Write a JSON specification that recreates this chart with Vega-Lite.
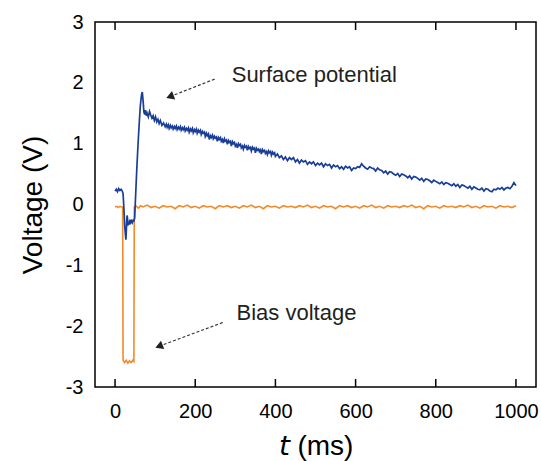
{
  "$schema": "https://vega.github.io/schema/vega-lite/v6.json",
  "autosize": "none",
  "width": 441,
  "height": 365,
  "padding": {"left": 95, "top": 22, "right": 5, "bottom": 74},
  "background": "white",
  "config": {
    "view": {"stroke": "#000000", "strokeWidth": 1.5},
    "font": "Liberation Sans",
    "axis": {"grid": false, "domain": false, "labelFont": "Liberation Sans", "titleFont": "Liberation Sans", "labelColor": "#000000", "titleColor": "#000000", "titleFontWeight": "normal"}
  },
  "datasets": {
    "surface": [
      {"t":0,"v":0.22},{"t":3,"v":0.25},{"t":6,"v":0.21},{"t":9,"v":0.26},{"t":12,"v":0.23},{"t":15,"v":0.25},{"t":18,"v":0.22},{"t":20,"v":0.18},
      {"t":22,"v":-0.05},{"t":24,"v":-0.35},{"t":26,"v":-0.5},{"t":27,"v":-0.58},{"t":28,"v":-0.45},{"t":29,"v":-0.3},{"t":30,"v":-0.18},{"t":31,"v":-0.22},
      {"t":32,"v":-0.35},{"t":33,"v":-0.28},{"t":35,"v":-0.33},{"t":37,"v":-0.25},{"t":39,"v":-0.3},{"t":41,"v":-0.27},{"t":43,"v":-0.3},{"t":45,"v":-0.26},
      {"t":47,"v":-0.27},{"t":49,"v":-0.22},{"t":51,"v":0.1},{"t":54,"v":0.55},{"t":57,"v":0.95},{"t":60,"v":1.3},{"t":63,"v":1.62},{"t":66,"v":1.8},
      {"t":68,"v":1.85},{"t":70,"v":1.7},{"t":72,"v":1.52},{"t":74,"v":1.48},{"t":76,"v":1.55},{"t":78,"v":1.46},{"t":80,"v":1.5},{"t":83,"v":1.44},
      {"t":86,"v":1.53},{"t":89,"v":1.47},{"t":92,"v":1.42},{"t":95,"v":1.46},{"t":98,"v":1.38},{"t":101,"v":1.44},{"t":104,"v":1.36},{"t":107,"v":1.4},
      {"t":110,"v":1.33},{"t":113,"v":1.38},{"t":117,"v":1.3},{"t":121,"v":1.34},{"t":125,"v":1.28},{"t":128,"v":1.32},{"t":130,"v":1.27},{"t":133,"v":1.31},{"t":135,"v":1.25},{"t":138,"v":1.3},{"t":140,"v":1.26},
      {"t":143,"v":1.29},{"t":145,"v":1.24},{"t":148,"v":1.28},{"t":150,"v":1.25},{"t":153,"v":1.29},{"t":155,"v":1.23},{"t":158,"v":1.27},{"t":160,"v":1.24},{"t":163,"v":1.28},{"t":165,"v":1.22},{"t":168,"v":1.26},{"t":170,"v":1.23},{"t":173,"v":1.27},{"t":175,"v":1.21},{"t":178,"v":1.25},{"t":180,"v":1.22},
      {"t":183,"v":1.26},{"t":185,"v":1.19},{"t":188,"v":1.24},{"t":190,"v":1.21},{"t":193,"v":1.25},{"t":195,"v":1.18},{"t":198,"v":1.23},{"t":200,"v":1.2},{"t":203,"v":1.24},{"t":205,"v":1.17},{"t":208,"v":1.22},{"t":210,"v":1.19},{"t":213,"v":1.22},{"t":215,"v":1.15},{"t":218,"v":1.2},{"t":220,"v":1.17},
      {"t":223,"v":1.19},{"t":225,"v":1.12},{"t":228,"v":1.17},{"t":230,"v":1.13},{"t":233,"v":1.16},{"t":235,"v":1.07},{"t":238,"v":1.13},{"t":240,"v":1.1},{"t":243,"v":1.14},{"t":245,"v":1.08},{"t":248,"v":1.12},{"t":250,"v":1.09},{"t":253,"v":1.11},{"t":255,"v":1.04},{"t":258,"v":1.1},{"t":260,"v":1.07},
      {"t":263,"v":1.1},{"t":265,"v":1.04},{"t":268,"v":1.07},{"t":270,"v":1.01},{"t":273,"v":1.08},{"t":275,"v":1.04},{"t":278,"v":1.06},{"t":280,"v":0.99},{"t":283,"v":1.05},{"t":285,"v":1.02},{"t":288,"v":1.04},{"t":290,"v":0.96},{"t":293,"v":1.03},{"t":295,"v":1.0},{"t":298,"v":1.02},{"t":300,"v":0.96},
      {"t":303,"v":0.99},{"t":305,"v":0.93},{"t":308,"v":1.0},{"t":310,"v":0.97},{"t":313,"v":0.99},{"t":315,"v":0.93},{"t":318,"v":0.96},{"t":320,"v":0.91},{"t":323,"v":0.97},{"t":325,"v":0.94},{"t":328,"v":0.96},{"t":330,"v":0.89},{"t":333,"v":0.95},{"t":335,"v":0.92},{"t":338,"v":0.94},{"t":340,"v":0.88},
      {"t":343,"v":0.94},{"t":345,"v":0.91},{"t":348,"v":0.93},{"t":350,"v":0.85},{"t":353,"v":0.92},{"t":355,"v":0.89},{"t":358,"v":0.91},{"t":360,"v":0.87},{"t":363,"v":0.9},{"t":365,"v":0.83},{"t":368,"v":0.9},{"t":370,"v":0.87},{"t":373,"v":0.89},{"t":375,"v":0.84},{"t":378,"v":0.87},{"t":380,"v":0.82},
      {"t":383,"v":0.88},{"t":385,"v":0.85},{"t":388,"v":0.87},{"t":390,"v":0.81},{"t":393,"v":0.86},{"t":395,"v":0.83},{"t":398,"v":0.85},{"t":400,"v":0.79},{"t":405,"v":0.83},{"t":410,"v":0.77},{"t":415,"v":0.8},{"t":420,"v":0.74},{"t":425,"v":0.78},{"t":430,"v":0.72},{"t":435,"v":0.77},{"t":440,"v":0.74},
      {"t":445,"v":0.77},{"t":450,"v":0.7},{"t":455,"v":0.74},{"t":460,"v":0.68},{"t":465,"v":0.73},{"t":470,"v":0.7},{"t":475,"v":0.72},{"t":480,"v":0.66},{"t":485,"v":0.7},{"t":490,"v":0.67},{"t":495,"v":0.7},{"t":500,"v":0.64},{"t":505,"v":0.68},{"t":510,"v":0.65},{"t":515,"v":0.68},{"t":520,"v":0.62},
      {"t":525,"v":0.67},{"t":530,"v":0.64},{"t":535,"v":0.66},{"t":540,"v":0.6},{"t":545,"v":0.65},{"t":550,"v":0.62},{"t":555,"v":0.64},{"t":560,"v":0.59},{"t":565,"v":0.62},{"t":570,"v":0.58},{"t":575,"v":0.63},{"t":580,"v":0.6},{"t":585,"v":0.62},{"t":590,"v":0.56},{"t":595,"v":0.6},{"t":600,"v":0.59},
      {"t":605,"v":0.62},{"t":610,"v":0.61},{"t":615,"v":0.67},{"t":620,"v":0.63},{"t":625,"v":0.6},{"t":630,"v":0.58},{"t":635,"v":0.62},{"t":640,"v":0.6},{"t":645,"v":0.59},{"t":650,"v":0.55},{"t":655,"v":0.6},{"t":660,"v":0.57},{"t":665,"v":0.56},{"t":670,"v":0.52},{"t":675,"v":0.55},{"t":680,"v":0.5},
      {"t":685,"v":0.54},{"t":690,"v":0.53},{"t":695,"v":0.5},{"t":700,"v":0.48},{"t":705,"v":0.51},{"t":710,"v":0.46},{"t":715,"v":0.5},{"t":720,"v":0.49},{"t":725,"v":0.47},{"t":730,"v":0.44},{"t":735,"v":0.47},{"t":740,"v":0.42},{"t":745,"v":0.46},{"t":750,"v":0.45},{"t":755,"v":0.43},{"t":760,"v":0.4},
      {"t":765,"v":0.43},{"t":770,"v":0.38},{"t":775,"v":0.42},{"t":780,"v":0.41},{"t":785,"v":0.39},{"t":790,"v":0.36},{"t":795,"v":0.4},{"t":800,"v":0.38},{"t":805,"v":0.36},{"t":810,"v":0.34},{"t":815,"v":0.37},{"t":820,"v":0.33},{"t":825,"v":0.36},{"t":830,"v":0.35},{"t":835,"v":0.33},{"t":840,"v":0.31},
      {"t":845,"v":0.34},{"t":850,"v":0.3},{"t":855,"v":0.33},{"t":860,"v":0.28},{"t":865,"v":0.32},{"t":870,"v":0.31},{"t":875,"v":0.29},{"t":880,"v":0.27},{"t":885,"v":0.3},{"t":890,"v":0.25},{"t":895,"v":0.29},{"t":900,"v":0.27},{"t":905,"v":0.25},{"t":910,"v":0.24},{"t":915,"v":0.27},{"t":920,"v":0.22},
      {"t":925,"v":0.26},{"t":930,"v":0.25},{"t":935,"v":0.22},{"t":940,"v":0.21},{"t":945,"v":0.25},{"t":950,"v":0.24},{"t":955,"v":0.27},{"t":960,"v":0.25},{"t":965,"v":0.28},{"t":970,"v":0.24},{"t":975,"v":0.27},{"t":980,"v":0.28},{"t":985,"v":0.26},{"t":990,"v":0.3},{"t":995,"v":0.36},{"t":1000,"v":0.31}
    ],
    "bias": [
      {"t":0,"v":-0.04},{"t":4,"v":-0.03},{"t":8,"v":-0.05},{"t":12,"v":-0.03},{"t":16,"v":-0.04},{"t":19,"v":-0.04},
      {"t":20,"v":-2.56},{"t":24,"v":-2.6},{"t":28,"v":-2.56},{"t":32,"v":-2.61},{"t":36,"v":-2.57},{"t":40,"v":-2.6},{"t":44,"v":-2.56},{"t":47,"v":-2.58},
      {"t":48,"v":-0.04},{"t":52,"v":-0.02},{"t":58,"v":-0.06},{"t":64,"v":-0.02},{"t":70,"v":-0.04},{"t":80,"v":-0.01},{"t":90,"v":-0.05},{"t":100,"v":-0.03},
      {"t":110,"v":-0.06},{"t":120,"v":-0.02},{"t":130,"v":-0.04},{"t":140,"v":-0.03},{"t":150,"v":-0.07},{"t":160,"v":-0.02},{"t":170,"v":-0.04},{"t":180,"v":-0.01},
      {"t":190,"v":-0.05},{"t":200,"v":-0.03},{"t":210,"v":-0.06},{"t":220,"v":-0.02},{"t":230,"v":-0.04},{"t":240,"v":-0.03},{"t":250,"v":-0.07},{"t":260,"v":-0.02},
      {"t":270,"v":-0.04},{"t":280,"v":-0.02},{"t":290,"v":-0.05},{"t":300,"v":-0.03},{"t":310,"v":-0.06},{"t":320,"v":-0.02},{"t":330,"v":-0.04},{"t":340,"v":-0.01},
      {"t":350,"v":-0.05},{"t":360,"v":-0.03},{"t":370,"v":-0.07},{"t":380,"v":-0.02},{"t":390,"v":-0.04},{"t":400,"v":-0.03},{"t":410,"v":-0.06},{"t":420,"v":-0.02},
      {"t":430,"v":-0.04},{"t":440,"v":-0.03},{"t":450,"v":-0.05},{"t":460,"v":-0.02},{"t":470,"v":-0.04},{"t":480,"v":-0.01},{"t":490,"v":-0.05},{"t":500,"v":-0.03},
      {"t":510,"v":-0.06},{"t":520,"v":-0.02},{"t":530,"v":-0.04},{"t":540,"v":-0.03},{"t":550,"v":-0.07},{"t":560,"v":-0.02},{"t":570,"v":-0.04},{"t":580,"v":-0.02},
      {"t":590,"v":-0.05},{"t":600,"v":-0.03},{"t":610,"v":-0.06},{"t":620,"v":-0.02},{"t":630,"v":-0.04},{"t":640,"v":-0.01},{"t":650,"v":-0.05},{"t":660,"v":-0.03},
      {"t":670,"v":-0.06},{"t":680,"v":-0.02},{"t":690,"v":-0.04},{"t":700,"v":-0.03},{"t":710,"v":-0.05},{"t":720,"v":-0.02},{"t":730,"v":-0.04},{"t":740,"v":-0.01},
      {"t":750,"v":-0.05},{"t":760,"v":-0.03},{"t":770,"v":-0.07},{"t":780,"v":-0.02},{"t":790,"v":-0.04},{"t":800,"v":-0.03},{"t":810,"v":-0.06},{"t":820,"v":-0.02},
      {"t":830,"v":-0.04},{"t":840,"v":-0.03},{"t":850,"v":-0.05},{"t":860,"v":-0.02},{"t":870,"v":-0.04},{"t":880,"v":-0.01},{"t":890,"v":-0.05},{"t":900,"v":-0.03},
      {"t":910,"v":-0.06},{"t":920,"v":-0.02},{"t":930,"v":-0.04},{"t":940,"v":-0.03},{"t":950,"v":-0.06},{"t":960,"v":-0.02},{"t":970,"v":-0.04},{"t":980,"v":-0.03},
      {"t":990,"v":-0.05},{"t":1000,"v":-0.02}
    ],
    "xticks": [{"t":0},{"t":200},{"t":400},{"t":600},{"t":800},{"t":1000}],
    "arrows": [
      {"id":"surface","t":249,"v":2.063},{"id":"surface","t":137,"v":1.773},
      {"id":"bias","t":270,"v":-1.937},{"id":"bias","t":109.6,"v":-2.33}
    ],
    "heads": [
      {"id":"surface","t":137,"v":1.773},
      {"id":"bias","t":109.6,"v":-2.33}
    ],
    "labels": [
      {"label":"Surface potential","t":291,"v":2.02},
      {"label":"Bias voltage","t":303,"v":-1.9}
    ]
  },
  "layer": [
    {
      "data": {"name": "bias"},
      "mark": {"type": "line", "color": "#f28a2a", "strokeWidth": 1.6},
      "encoding": {
        "x": {"field": "t", "type": "quantitative", "scale": {"domain": [-50, 1050], "nice": false, "zero": false},
              "axis": {"orient": "bottom", "values": [0,200,400,600,800,1000], "format": "d", "title": "𝘵 (ms)", "titleFontSize": 28, "titlePadding": 11,
                       "labelFontSize": 20, "labelPadding": 6.5, "ticks": true, "tickSize": 8, "tickColor": "#ffffff", "tickOpacity": 0, "tickWidth": 1}},
        "y": {"field": "v", "type": "quantitative", "scale": {"domain": [-3, 3], "nice": false, "zero": false},
              "axis": {"orient": "left", "values": [-3,-2,-1,0,1,2,3], "labelExpr": "datum.value < 0 ? '-' + abs(datum.value) : '' + datum.value", "title": "Voltage (V)", "titleFontSize": 28, "titlePadding": 18,
                       "labelFontSize": 20, "labelPadding": 12, "ticks": false}}
      }
    },
    {
      "data": {"name": "surface"},
      "mark": {"type": "line", "color": "#1a3e97", "strokeWidth": 1.7},
      "encoding": {
        "x": {"field": "t", "type": "quantitative"},
        "y": {"field": "v", "type": "quantitative"}
      }
    },
    {
      "data": {"name": "xticks"},
      "mark": {"type": "rule", "color": "#000000", "strokeWidth": 1.5, "opacity": 1},
      "encoding": {
        "x": {"field": "t", "type": "quantitative"},
        "y": {"datum": -3, "type": "quantitative"},
        "y2": {"datum": -2.8685}
      }
    },
    {
      "data": {"name": "xticks"},
      "mark": {"type": "rule", "color": "#000000", "strokeWidth": 1.5, "opacity": 1},
      "encoding": {
        "x": {"field": "t", "type": "quantitative"},
        "y": {"datum": 3, "type": "quantitative"},
        "y2": {"datum": 2.8685}
      }
    },
    {
      "data": {"name": "arrows"},
      "mark": {"type": "line", "color": "#333333", "strokeWidth": 1.2, "strokeDash": [3, 2]},
      "encoding": {
        "x": {"field": "t", "type": "quantitative"},
        "y": {"field": "v", "type": "quantitative"},
        "detail": {"field": "id"}
      }
    },
    {
      "data": {"name": "heads"},
      "mark": {"type": "point", "shape": "triangle-left", "filled": true, "color": "#231f20", "size": 80, "angle": -21, "opacity": 1},
      "encoding": {
        "x": {"field": "t", "type": "quantitative"},
        "y": {"field": "v", "type": "quantitative"}
      }
    },
    {
      "data": {"name": "labels"},
      "mark": {"type": "text", "align": "left", "baseline": "alphabetic", "fontSize": 22, "color": "#231f20", "font": "Liberation Sans"},
      "encoding": {
        "x": {"field": "t", "type": "quantitative"},
        "y": {"field": "v", "type": "quantitative"},
        "text": {"field": "label"}
      }
    }
  ]
}
